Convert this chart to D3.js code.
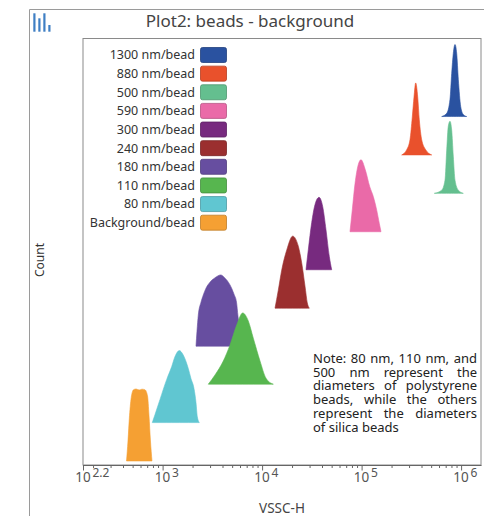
<!DOCTYPE html>
<html>
<head>
<meta charset="utf-8">
<script src="https://d3js.org/d3.v7.min.js"></script>
<style>
body { margin: 0; background: #fff; }
text { font-family: "Noto Sans", sans-serif; }
</style>
</head>
<body>
<script>
// legend order = drawing order (top lane first)
const beads = ['1300 nm/bead', '880 nm/bead', '500 nm/bead', '590 nm/bead', '300 nm/bead',
  '240 nm/bead', '180 nm/bead', '110 nm/bead', '80 nm/bead', 'Background/bead'];
const colors = ['#2a52a0', '#e9512c', '#64bf8f', '#ea6aa8', '#772a7f',
  '#9b2f2f', '#674ea0', '#57b64f', '#60c6d1', '#f5a033'];
// count offset of each lane's baseline
const offsets = [8710, 7750, 6790, 5830, 4880, 3920, 2970, 2020, 1060, 100];

const vssc1300 = [638300, 716600, 773300, 804400, 834700, 868200, 903000, 937700, 990800, 1052000, 1138000];
const count1300 = [0, 80, 430, 1080, 1580, 1800, 1580, 930, 250, 50, 0];
const vssc880 = [252900, 284000, 306400, 323300, 336300, 349700, 366300, 380100, 401800, 440800, 506300];
const count880 = [0, 130, 380, 950, 1450, 1800, 1450, 880, 380, 130, 0];
const vssc500 = [537800, 638300, 689000, 716600, 743700, 773300, 804400, 834700, 868200, 937700, 1052000];
const count500 = [0, 80, 330, 1080, 1680, 1800, 1580, 930, 330, 80, 0];
const vssc590 = [76450, 80640, 85840, 92650, 98620, 108900, 120600, 131100, 141900, 150600, 156700];
const count590 = [0, 550, 1200, 1680, 1800, 1550, 1130, 880, 540, 210, 0];
const vssc300 = [27620, 29130, 31510, 34020, 37320, 40640, 43870, 47370, 50060];
const count300 = [0, 500, 1180, 1630, 1810, 1580, 1000, 330, 0];
const vssc240 = [13480, 14550, 15740, 17670, 20300, 23110, 25000, 26990, 28470, 29820];
const count240 = [0, 450, 950, 1450, 1800, 1550, 1130, 550, 130, 0];
const vssc180 = [2166, 2217, 2285, 2432, 2564, 2731, 2995, 3363, 3836, 4238, 4758, 5219, 5530, 5725, 5928, 6209, 6427];
const count180 = [0, 380, 780, 1100, 1280, 1450, 1600, 1710, 1780, 1700, 1530, 1300, 1100, 750, 450, 150, 0];
const vssc110 = [2879, 3363, 4074, 4758, 5556, 6383, 7265, 8157, 9526, 10944, 12960];
const count110 = [0, 230, 580, 980, 1480, 1780, 1580, 1150, 580, 150, 0];
const vssc80 = [788, 839, 942, 1100, 1235, 1332, 1472, 1603, 1813, 1929, 2068, 2166, 2232, 2338];
const count80 = [0, 200, 580, 1080, 1400, 1650, 1800, 1700, 1350, 1100, 850, 500, 150, 0];
const vsscBg = [434, 449, 465, 487, 510, 541, 580, 621, 665, 705, 730, 755, 782];
const countBg = [0, 500, 1130, 1630, 1780, 1800, 1775, 1795, 1780, 1630, 1130, 500, 0];

const majorTicks = [Math.pow(10, 2.2), 1e3, 1e4, 1e5, 1e6];
const majorExp = ['2.2', '3', '4', '5', '6'];
const noteLines = ['Note: 80 nm, 110 nm, and', '500 nm represent the', 'diameters of polystyrene',
  'beads, while the others', 'represent the diameters', 'of silica beads'];

const vsscs = [vssc1300, vssc880, vssc500, vssc590, vssc300, vssc240, vssc180, vssc110, vssc80, vsscBg];
const counts = [count1300, count880, count500, count590, count300, count240, count180, count110, count80, countBg];

const W = 484, H = 516;
const margin = {left: 83, top: 38.5, right: 3, bottom: 51};
const svg = d3.select('body').append('svg').attr('width', W).attr('height', H);

const x = d3.scaleLog().domain([Math.pow(10, 2.2), Math.pow(10, 6.2)]).range([margin.left, W - margin.right]);
const y = d3.scaleLinear().domain([0, 10660]).range([H - margin.bottom, margin.top]);

// outer panel frame
svg.append('path').attr('d', 'M29.5,516 V9.5 H484').attr('fill', 'none').attr('stroke', '#9a9a9a');
// plot frame
svg.append('rect').attr('x', margin.left).attr('y', margin.top)
  .attr('width', W - margin.right - margin.left).attr('height', H - margin.bottom - margin.top)
  .attr('fill', 'none').attr('stroke', '#8a8a8a');

// icon
const icon = [[33.3, 13.3], [38.3, 18.3], [43.3, 13.3], [48.3, 25]];
icon.forEach(function(b) {
  svg.append('rect').attr('x', b[0]).attr('y', b[1]).attr('width', 2.2).attr('height', 31.7 - b[1]).attr('fill', '#3f7fc4');
});

svg.append('text').text('Plot2: beads - background')
  .attr('x', 250).attr('y', 26.5).attr('text-anchor', 'middle')
  .attr('font-size', 17).attr('fill', '#444');

// histograms
const area = d3.area()
  .x(function(d) { return x(d.v); })
  .y0(function(d) { return y(d.o); })
  .y1(function(d) { return y(d.o + d.c); })
  .curve(d3.curveMonotoneX);

for (var i = 0; i < beads.length; i++) {
  const pts = vsscs[i].map(function(v, j) { return {v: v, c: counts[i][j], o: offsets[i]}; });
  svg.append('path').datum(pts)
    .attr('fill', colors[i])
    .attr('stroke', colors[i]).attr('stroke-width', 0.6)
    .attr('d', area);
}

// x axis
const minors = [];
for (var e = 2; e <= 6; e++) {
  for (var m = 2; m <= 9; m++) {
    const v = m * Math.pow(10, e);
    if (v > x.domain()[0] && v < x.domain()[1]) minors.push(v);
  }
}
const axisY = H - margin.bottom;
const gMinor = svg.append('g').attr('transform', 'translate(0,' + axisY + ')')
  .call(d3.axisBottom(x).tickValues(minors).tickSize(3).tickFormat(''));
const gMajor = svg.append('g').attr('transform', 'translate(0,' + axisY + ')')
  .call(d3.axisBottom(x).tickValues(majorTicks).tickSize(5.5).tickSizeOuter(0).tickFormat(''));
[gMinor, gMajor].forEach(function(g) {
  g.select('.domain').attr('stroke', '#666');
  g.selectAll('.tick line').attr('stroke', '#666');
});
gMinor.select('.domain').remove();

majorTicks.forEach(function(t, k) {
  svg.append('text').text('10').attr('x', x(t)).attr('y', axisY + 16.7)
    .attr('text-anchor', 'middle').attr('font-size', 13.5).attr('fill', '#555');
  svg.append('text').text(majorExp[k]).attr('x', x(t) + 9.5).attr('y', axisY + 11.7)
    .attr('font-size', 12).attr('fill', '#555');
});

svg.append('text').text('VSSC-H')
  .attr('x', (margin.left + W - margin.right) / 2).attr('y', 512.5)
  .attr('text-anchor', 'middle').attr('font-size', 13.5).attr('fill', '#444');

svg.append('text').text('Count')
  .attr('transform', 'translate(44,260) rotate(-90)')
  .attr('text-anchor', 'middle').attr('font-size', 12).attr('fill', '#333');

// legend
const ly = d3.scalePoint().domain(beads).range([55, 222.7]);
beads.forEach(function(b, i) {
  svg.append('text').text(b).attr('x', 195).attr('y', ly(b)).attr('dy', '0.35em')
    .attr('text-anchor', 'end').attr('font-size', 12.5).attr('fill', '#333');
  svg.append('rect').attr('x', 200.5).attr('y', ly(b) - 7.5).attr('width', 26).attr('height', 15)
    .attr('rx', 2).attr('fill', colors[i])
    .attr('stroke', d3.color(colors[i]).darker(0.7)).attr('stroke-width', 0.8);
});

// justified note, one text element
const nx0 = 313, nx1 = 477, ny0 = 362.7, nstep = 13.8;
const note = svg.append('text').attr('font-size', 13).attr('fill', '#222');
noteLines.forEach(function(line, k) {
  const ny = ny0 + k * nstep;
  if (k === noteLines.length - 1) {
    note.append('tspan').attr('x', nx0).attr('y', ny).text(line);
    return;
  }
  const words = line.split(' ');
  const spans = words.map(function(w) { return note.append('tspan').attr('y', ny).text(w); });
  const widths = spans.map(function(s) { return s.node().getComputedTextLength(); });
  const gap = (nx1 - nx0 - d3.sum(widths)) / (words.length - 1);
  var cx = nx0;
  spans.forEach(function(s, j) { s.attr('x', cx); cx += widths[j] + gap; });
});
</script>
</body>
</html>
